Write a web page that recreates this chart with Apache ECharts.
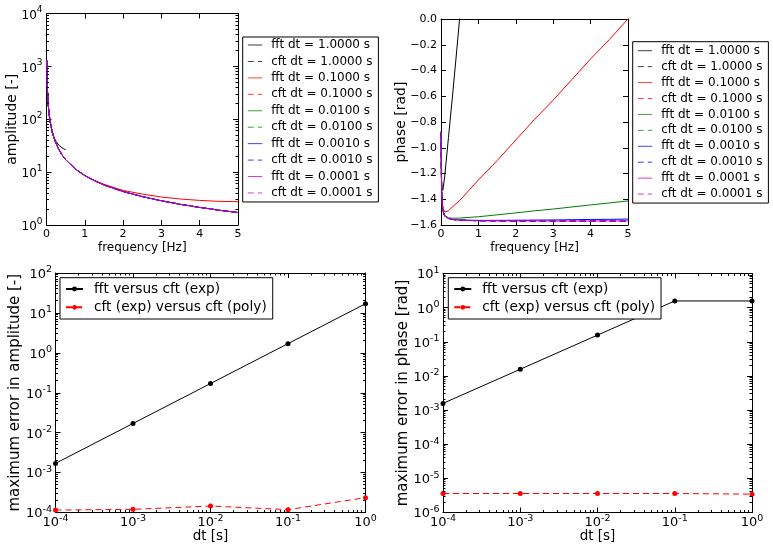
<!DOCTYPE html>
<html>
<head>
<meta charset="utf-8">
<script src="https://cdn.jsdelivr.net/npm/echarts@6/dist/echarts.min.js"></script>
<style>
html, body { margin: 0; padding: 0; background: #fff; }
#chart { width: 773px; height: 552px; }
</style>
</head>
<body>
<div id="chart"></div>
<script>
// amplitude spectrum (top left)
const freqCft = [0.005, 0.01, 0.02, 0.03, 0.05, 0.075, 0.1, 0.15, 0.2, 0.3, 0.4, 0.5, 0.75, 1, 1.25, 1.5, 2, 2.5, 3, 3.5, 4, 4.5, 5]
const ampCft = [1300, 860, 430, 290, 172, 115, 86, 57, 43, 28.7, 21.5, 17.2, 11.5, 8.6, 6.9, 5.7, 4.3, 3.45, 2.87, 2.46, 2.15, 1.91, 1.72]
const freqFft1 = [0.005, 0.01, 0.02, 0.05, 0.1, 0.15, 0.2, 0.25, 0.3, 0.35, 0.4, 0.45, 0.5]
const ampFft1 = [1300, 860, 430, 173, 87, 59, 45, 38, 34, 31, 29, 27.5, 26.5]
const ampFft01 = [1300, 860, 430, 290, 172, 115, 86, 57, 43, 28.7, 21.5, 17.2, 11.5, 8.7, 7.0, 5.9, 4.5, 3.85, 3.38, 3.1, 2.92, 2.8, 2.76]

// phase spectrum (top right)
const freqPh = [0.005, 0.01, 0.02, 0.05, 0.1, 0.2, 0.3, 0.5, 1, 1.5, 2, 2.5, 3, 3.5, 4, 4.5, 5]
const phCft = [-0.88, -1.18, -1.37, -1.49, -1.53, -1.55, -1.557, -1.562, -1.567, -1.568, -1.569, -1.569, -1.570, -1.570, -1.570, -1.570, -1.570]
const freqPhFft1 = [0.005, 0.01, 0.02, 0.05, 0.1, 0.2, 0.3, 0.4, 0.5]
const phFft1 = [-0.87, -1.15, -1.31, -1.33, -1.22, -0.92, -0.62, -0.31, 0.01]
const phFft01 = [-0.88, -1.18, -1.36, -1.47, -1.50, -1.49, -1.46, -1.41, -1.25, -1.10, -0.94, -0.78, -0.63, -0.47, -0.31, -0.16, 0.0]
const phFft001 = [-0.88, -1.18, -1.37, -1.49, -1.527, -1.544, -1.548, -1.546, -1.536, -1.521, -1.506, -1.490, -1.476, -1.460, -1.444, -1.429, -1.413]
const phFft0001 = [-0.88, -1.18, -1.37, -1.49, -1.53, -1.55, -1.557, -1.561, -1.564, -1.564, -1.563, -1.562, -1.561, -1.559, -1.557, -1.556, -1.554]
const phFft00001 = [-0.88, -1.18, -1.37, -1.49, -1.53, -1.55, -1.557, -1.562, -1.567, -1.568, -1.568, -1.568, -1.569, -1.569, -1.569, -1.568, -1.568]

// error vs dt (bottom)
const dtList = [1e-4, 1e-3, 1e-2, 1e-1, 1]
const ampErrFft = [1.7e-3, 1.7e-2, 0.17, 1.7, 17]
const ampErrPoly = [1.15e-4, 1.2e-4, 1.45e-4, 1.18e-4, 2.35e-4]
const phErrFft = [1.57e-3, 1.57e-2, 0.157, 1.57, 1.57]
const phErrPoly = [3.6e-6, 3.6e-6, 3.6e-6, 3.6e-6, 3.45e-6]

const dtNames = ['1.0000', '0.1000', '0.0100', '0.0010', '0.0001']
const colors = ['#000000', '#ff0000', '#008000', '#0000ff', '#bf00bf']
const FONT = 'DejaVu Sans'
const DASH = [6, 4]

const zip = (xs, ys) => xs.map((x, i) => [x, ys[i]])
const below = (xs, ys, lim) => zip(xs, ys).filter(p => p[0] <= lim + 1e-9)

const ampFft = [zip(freqFft1, ampFft1), zip(freqCft, ampFft01), zip(freqCft, ampCft), zip(freqCft, ampCft), zip(freqCft, ampCft)]
const ampCftData = [below(freqCft, ampCft, 0.5), zip(freqCft, ampCft), zip(freqCft, ampCft), zip(freqCft, ampCft), zip(freqCft, ampCft)]
const phFft = [zip(freqPhFft1, phFft1), zip(freqPh, phFft01), zip(freqPh, phFft001), zip(freqPh, phFft0001), zip(freqPh, phFft00001)]
const phCftData = [below(freqPh, phCft, 0.5), zip(freqPh, phCft), zip(freqPh, phCft), zip(freqPh, phCft), zip(freqPh, phCft)]

const topNames = []
dtNames.forEach(d => { topNames.push('fft dt = ' + d + ' s'); topNames.push('cft dt = ' + d + ' s') })
const botNames = ['fft versus cft (exp)', 'cft (exp) versus cft (poly)']

const lineSeries = (name, data, grid, color, dashed) => ({
    name: name, type: 'line', xAxisIndex: grid, yAxisIndex: grid, data: data,
    symbol: 'none', showSymbol: false, animation: false, clip: true,
    lineStyle: { color: color, width: 1, type: dashed ? DASH : 'solid' },
    itemStyle: { color: color }
})

const series = []
for (let i = 0; i < 5; i++) {
    series.push(lineSeries(topNames[2 * i], ampFft[i], 0, colors[i], false))
    series.push(lineSeries(topNames[2 * i + 1], ampCftData[i], 0, colors[i], true))
}
for (let i = 0; i < 5; i++) {
    series.push(lineSeries(topNames[2 * i], phFft[i], 1, colors[i], false))
    series.push(lineSeries(topNames[2 * i + 1], phCftData[i], 1, colors[i], true))
}
const errSeries = (name, xs, ys, grid, color, dashed) => Object.assign(lineSeries(name, zip(xs, ys), grid, color, dashed), {
    symbol: 'circle', symbolSize: 5, showSymbol: true
})
series.push(errSeries(botNames[0], dtList, ampErrFft, 2, '#000', false))
series.push(errSeries(botNames[1], dtList, ampErrPoly, 2, '#ff0000', true))
series.push(errSeries(botNames[0], dtList, phErrFft, 3, '#000', false))
series.push(errSeries(botNames[1], dtList, phErrPoly, 3, '#ff0000', true))

const grids = [
    { left: 46.5, top: 13.5, width: 191.5, height: 211.5 },
    { left: 441, top: 19, width: 187, height: 206 },
    { left: 55.5, top: 273, width: 310, height: 239.5 },
    { left: 443, top: 273.5, width: 309, height: 239 }
]

const logLabel = (size, sup) => ({
    formatter: v => '{b|10}{s|' + Math.round(Math.log10(v)) + '}',
    rich: {
        b: { fontSize: size, lineHeight: 16, verticalAlign: 'bottom', fontFamily: FONT, color: '#000' },
        s: { fontSize: sup, lineHeight: 10, verticalAlign: 'top', fontFamily: FONT, color: '#000' }
    }
})

const baseAxis = (grid, extra) => Object.assign({
    gridIndex: grid,
    axisLine: { show: true, onZero: false, lineStyle: { color: '#000', width: 1 } },
    axisTick: { show: true, inside: true, length: 5, lineStyle: { color: '#000', width: 1 } },
    splitLine: { show: false },
    nameLocation: 'middle',
    nameMoveOverlap: false
}, extra)

const linX = (grid, min, max, interval, labels, name, nameSize) => baseAxis(grid, {
    type: 'value', min: min, max: max, interval: interval,
    axisLabel: labels ? { show: true, margin: 4, fontSize: 11, fontFamily: FONT, color: '#000', showMinLabel: true, showMaxLabel: true, hideOverlap: false } : { show: false },
    name: name, nameGap: 17, nameTextStyle: { fontFamily: FONT, fontSize: nameSize, color: '#000' }
})

const xAxes = [
    linX(0, 0, 5, 1, true, 'frequency [Hz]', 12),
    linX(1, 0, 5, 1, true, 'frequency [Hz]', 12),
    baseAxis(2, { type: 'log', logBase: 10, min: 1e-4, max: 1, splitNumber: 4,
        axisLabel: Object.assign({ margin: 1, showMinLabel: true, showMaxLabel: true, hideOverlap: false }, logLabel(13, 9.5)),
        name: 'dt [s]', nameGap: 16.5, nameTextStyle: { fontFamily: FONT, fontSize: 13.5, color: '#000' } }),
    baseAxis(3, { type: 'log', logBase: 10, min: 1e-4, max: 1, splitNumber: 4,
        axisLabel: Object.assign({ margin: 1, showMinLabel: true, showMaxLabel: true, hideOverlap: false }, logLabel(13, 9.5)),
        name: 'dt [s]', nameGap: 16.5, nameTextStyle: { fontFamily: FONT, fontSize: 13.5, color: '#000' } })
]
const yAxes = [
    baseAxis(0, { type: 'log', logBase: 10, min: 1, max: 1e4, splitNumber: 4,
        axisLabel: Object.assign({ margin: 4, showMinLabel: true, showMaxLabel: true, hideOverlap: false }, logLabel(12, 9)),
        name: 'amplitude [-]', nameGap: 27, nameTextStyle: { fontFamily: FONT, fontSize: 14, color: '#000' } }),
    baseAxis(1, { type: 'value', min: -1.6, max: 0, interval: 0.2,
        axisLabel: { margin: 4, fontSize: 11, fontFamily: FONT, color: '#000', showMinLabel: true, showMaxLabel: true, hideOverlap: false,
            formatter: v => (v < 0 ? '\u2212' : '') + Math.abs(v).toFixed(1) },
        name: 'phase [rad]', nameGap: 33, nameTextStyle: { fontFamily: FONT, fontSize: 14, color: '#000' } }),
    baseAxis(2, { type: 'log', logBase: 10, min: 1e-4, max: 100, splitNumber: 6,
        axisLabel: Object.assign({ margin: 3.5, showMinLabel: true, showMaxLabel: true, hideOverlap: false }, logLabel(13, 9.5)),
        name: 'maximum error in amplitude [-]', nameGap: 33, nameTextStyle: { fontFamily: FONT, fontSize: 15, color: '#000' } }),
    baseAxis(3, { type: 'log', logBase: 10, min: 1e-6, max: 10, splitNumber: 7,
        axisLabel: Object.assign({ margin: 3.5, showMinLabel: true, showMaxLabel: true, hideOverlap: false }, logLabel(13, 9.5)),
        name: 'maximum error in phase [rad]', nameGap: 32, nameTextStyle: { fontFamily: FONT, fontSize: 15, color: '#000' } })
]
// mirror axes on top / right, ticks only
for (let g = 0; g < 4; g++) {
    const x = xAxes[g], y = yAxes[g]
    xAxes.push(baseAxis(g, { type: x.type, min: x.min, max: x.max, interval: x.interval, splitNumber: x.splitNumber, position: 'top', axisLabel: { show: false } }))
    yAxes.push(baseAxis(g, { type: y.type, min: y.min, max: y.max, interval: y.interval, splitNumber: y.splitNumber, position: 'right', axisLabel: { show: false } }))
}

// top legends: line handles only, no marker
const topLegend = (left, top, gap, padTop) => ({
    orient: 'vertical', left: left, top: top, data: topNames, selectedMode: false,
    backgroundColor: '#fff', borderColor: '#000', borderWidth: 1, borderRadius: 0,
    padding: [padTop, 6, 2, 4.6], itemWidth: 14.4, itemHeight: 14, itemGap: gap,
    itemStyle: { opacity: 0 },
    lineStyle: { type: 'inherit', width: 1, opacity: 0.75 },
    textStyle: { fontFamily: FONT, fontSize: 12, color: '#000', lineHeight: 14, padding: [0, 0, 0, 4] }
})
const botLegend = (left) => ({
    orient: 'vertical', left: left, top: 277.7, data: botNames, selectedMode: false,
    backgroundColor: '#fff', borderColor: '#000', borderWidth: 1, borderRadius: 0,
    padding: [4.3, 6, 4.7, 5], itemWidth: 17, itemHeight: 6, itemGap: 4.3,
    textStyle: { fontFamily: FONT, fontSize: 13.7, color: '#000', lineHeight: 14, padding: [0, 0, 0, 6] }
})

const chart = echarts.init(document.getElementById('chart'))
chart.setOption({
    animation: false,
    backgroundColor: '#fff',
    textStyle: { fontFamily: FONT },
    grid: grids,
    xAxis: xAxes,
    yAxis: yAxes,
    legend: [topLegend(242.7, 37, 2.44, 1), topLegend(632.7, 41.7, 1.93, 2), botLegend(60), botLegend(448.3)],
    series: series
})

// minor ticks at 2..9 x 10^k on the log axes, placed through the chart's own scales
const minors = (lo, hi) => {
    const out = []
    for (let k = lo; k < hi; k++) for (let m = 2; m <= 9; m++) out.push(m * Math.pow(10, k))
    return out
}
const crisp = v => Math.round(v - 0.5) + 0.5
const tickLen = 2.5
const els = []
const addMinor = (g, xr, yr, xLog, yLog) => {
    const p0 = chart.convertToPixel({ gridIndex: g }, [xr[0], yr[0]])
    const p1 = chart.convertToPixel({ gridIndex: g }, [xr[1], yr[1]])
    const left = p0[0], right = p1[0], bottom = p0[1], top = p1[1]
    const line = (x1, y1, x2, y2) => els.push({ type: 'line', silent: true, z: 100,
        shape: { x1: x1, y1: y1, x2: x2, y2: y2 }, style: { stroke: '#000', lineWidth: 1 } })
    if (yLog) minors(Math.round(Math.log10(yr[0])), Math.round(Math.log10(yr[1]))).forEach(v => {
        const py = crisp(chart.convertToPixel({ gridIndex: g }, [xr[0], v])[1])
        line(left, py, left + tickLen, py)
        line(right - tickLen, py, right, py)
    })
    if (xLog) minors(Math.round(Math.log10(xr[0])), Math.round(Math.log10(xr[1]))).forEach(v => {
        const px = crisp(chart.convertToPixel({ gridIndex: g }, [v, yr[0]])[0])
        line(px, bottom, px, bottom - tickLen)
        line(px, top, px, top + tickLen)
    })
}
addMinor(0, [0, 5], [1, 1e4], false, true)
addMinor(2, [1e-4, 1], [1e-4, 100], true, true)
addMinor(3, [1e-4, 1], [1e-6, 10], true, true)
chart.setOption({ graphic: els })
</script>
</body>
</html>
